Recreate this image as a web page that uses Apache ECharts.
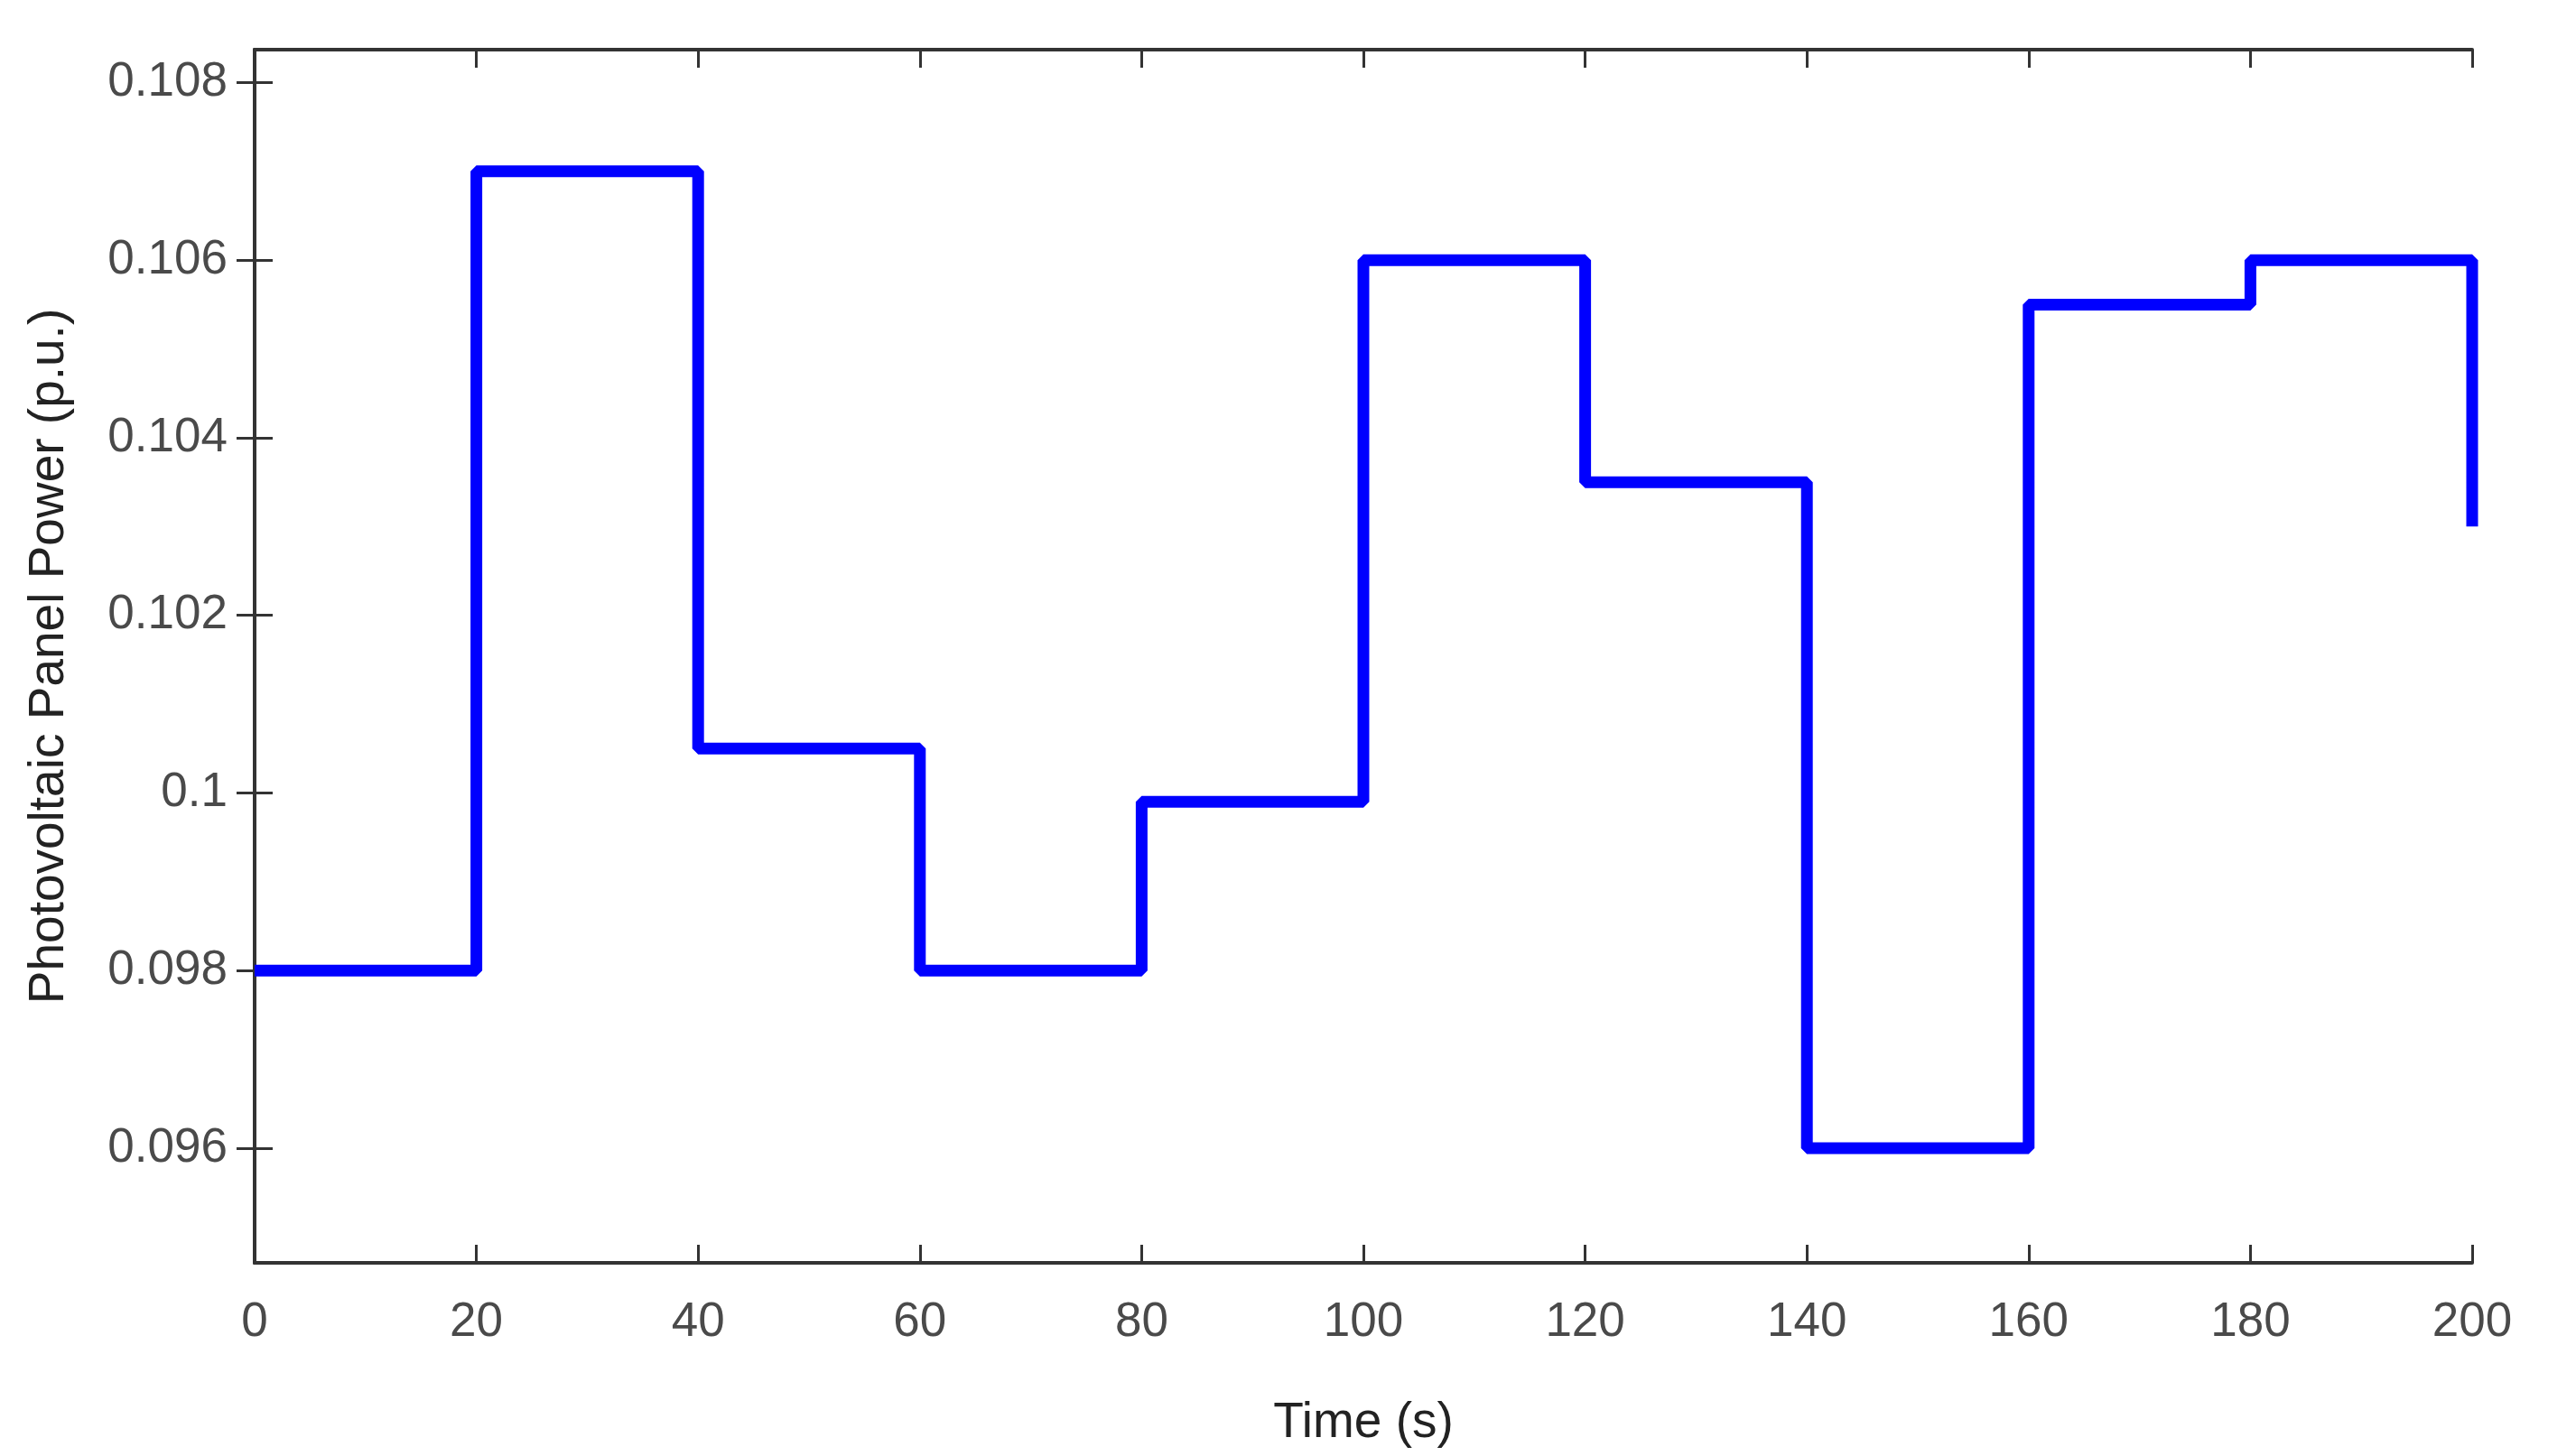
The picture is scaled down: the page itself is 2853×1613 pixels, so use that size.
<!DOCTYPE html>
<html>
<head>
<meta charset="utf-8">
<script src="https://cdn.jsdelivr.net/npm/echarts@6/dist/echarts.min.js"></script>
<style>
  html, body { margin: 0; padding: 0; background: #fff; }
  #chart { width: 2853px; height: 1613px; }
</style>
</head>
<body>
<div id="chart"></div>
<script>
// step edges (s) and the power held from each edge (p.u.)
const stepTimes = [0, 20, 40, 60, 80, 100, 120, 140, 160, 180, 200];
const stepPower = [0.098, 0.107, 0.1005, 0.098, 0.0999, 0.106, 0.1035, 0.096, 0.1055, 0.106, 0.103];
const xTicks = [0, 20, 40, 60, 80, 100, 120, 140, 160, 180, 200];
const yTicks = [0.096, 0.098, 0.1, 0.102, 0.104, 0.106, 0.108];

const seriesData = stepTimes.map((t, i) => [t, stepPower[i]]);

const chart = echarts.init(document.getElementById("chart"));
const labelFont = { fontFamily: "Liberation Sans, Arial, sans-serif", fontSize: 53, color: "#4a4a4a" };
const lineStyle = { color: "#333", width: 4 };
const tick = { show: true, inside: true, length: 20, lineStyle: { color: "#333", width: 3 } };
const yMin = 0.09471, yMax = 0.10837;

chart.setOption({
  animation: false,
  grid: { left: 282, right: 2853 - 2738, top: 55, bottom: 1613 - 1399 },
  xAxis: [{
    type: "value", min: 0, max: 200, interval: 20,
    name: "Time (s)", nameLocation: "middle", nameGap: 150,
    nameTextStyle: { ...labelFont, fontSize: 55, color: "#222" },
    axisLine: { show: true, lineStyle }, axisTick: tick,
    axisLabel: { ...labelFont, margin: 40 }, splitLine: { show: false }
  }, {
    type: "value", min: 0, max: 200, interval: 20, position: "top",
    axisLine: { show: true, lineStyle }, axisTick: tick,
    axisLabel: { show: false }, splitLine: { show: false }
  }],
  yAxis: [{
    type: "value", min: yMin, max: yMax,
    name: "Photovoltaic Panel Power (p.u.)", nameLocation: "middle", nameGap: 200,
    nameTextStyle: { ...labelFont, fontSize: 55, color: "#222" },
    axisLine: { show: true, lineStyle },
    axisTick: { ...tick, customValues: yTicks },
    axisLabel: { ...labelFont, margin: 30, customValues: yTicks,
      formatter: v => String(Math.round(v * 1000) / 1000) },
    splitLine: { show: false }
  }, {
    type: "value", min: yMin, max: yMax, position: "right",
    axisLine: { show: true, lineStyle },
    axisTick: { ...tick, customValues: yTicks },
    axisLabel: { show: false }, splitLine: { show: false }
  }],
  series: [{
    type: "line", step: "end", data: seriesData, showSymbol: false,
    clip: true, lineStyle: { color: "#0000ff", width: 13 }
  }]
});
</script>
</body>
</html>
